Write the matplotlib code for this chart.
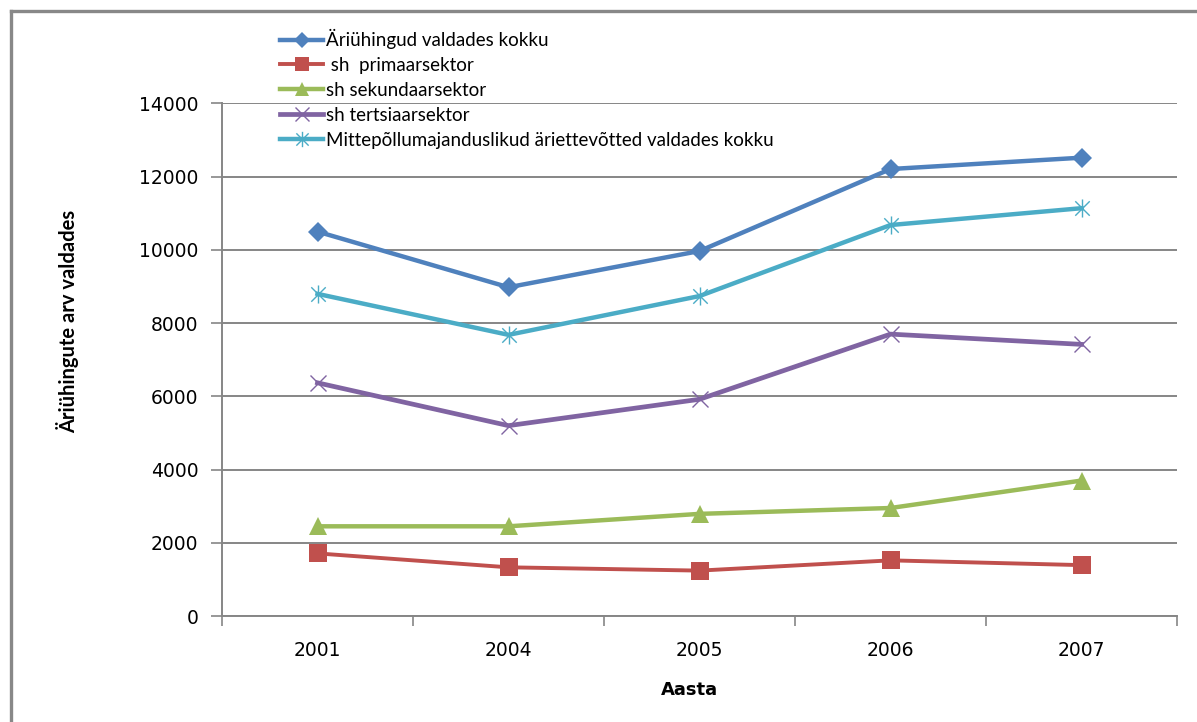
import matplotlib
matplotlib.use("Agg")
import matplotlib.pyplot as plt
from matplotlib.path import Path
from matplotlib.lines import Line2D

years = ["2001", "2004", "2005", "2006", "2007"]
ariuhingud = [10500, 8980, 9970, 12210, 12520]
primaar = [1710, 1330, 1240, 1520, 1390]
sekundaar = [2450, 2450, 2790, 2950, 3700]
tertsiaar = [6370, 5200, 5920, 7700, 7420]
mittepoll = [8800, 7680, 8740, 10680, 11140]

labels = ["Äriühingud valdades kokku", " sh  primaarsektor", "sh sekundaarsektor",
          "sh tertsiaarsektor", "Mittepõllumajanduslikud äriettevõtted valdades kokku"]
colors = ["#4F81BD", "#C0504D", "#9BBB59", "#8064A2", "#4BACC6"]

# Excel-style star marker: an x plus a vertical bar
star = Path([(-1, -1), (1, 1), (-1, 1), (1, -1), (0, -1.25), (0, 1.25)],
            [Path.MOVETO, Path.LINETO, Path.MOVETO, Path.LINETO, Path.MOVETO, Path.LINETO])

W, H = 1197, 722
fig = plt.figure(figsize=(W / 100, H / 100), dpi=100)
ax = fig.add_axes([222 / W, 1 - 616 / H, (1177 - 222) / W, (616 - 103.5) / H])

x = list(range(len(years)))
series = [ariuhingud, primaar, sekundaar, tertsiaar, mittepoll]
styles = [
    dict(marker="D", markersize=10, markeredgewidth=0),
    dict(marker="s", markersize=12.5, markeredgewidth=0),
    dict(marker="^", markersize=12.5, markeredgewidth=0),
    dict(marker="x", markersize=12, markeredgewidth=1.0),
    dict(marker=star, markersize=13, markeredgewidth=1.0, fillstyle="none"),
]
lws = [3.2, 2.8, 3.2, 3.4, 3.2]
for vals, lab, c, st, lw in zip(series, labels, colors, styles, lws):
    ax.plot(x, vals, color=c, lw=lw, label=lab, markerfacecolor=c,
            markeredgecolor=c, zorder=3, **st)

ax.set_xlim(-0.5, 4.5)
ax.set_ylim(0, 14000)
ax.set_yticks(range(0, 14001, 2000))
ax.set_xticks(x)
ax.set_xticklabels(years)
ax.set_xticks([i - 0.5 for i in range(6)], minor=True)
ax.tick_params(axis="x", which="major", length=0, pad=18, labelsize=13.5)
ax.tick_params(axis="x", which="minor", length=7, width=1.2, color="#868686", direction="out")
ax.tick_params(axis="y", length=8, width=1.2, color="#868686", labelsize=13.5, pad=9)
for lab in ax.get_xticklabels() + ax.get_yticklabels():
    lab.set_family("DejaVu Sans")

ax.grid(axis="y", color="#868686", lw=1.4, zorder=0)
ax.set_axisbelow(True)
for s in ["top", "right"]:
    ax.spines[s].set_visible(False)
for s in ["left", "bottom"]:
    ax.spines[s].set_color("#868686")
    ax.spines[s].set_linewidth(1.4)

ax.set_xlabel("Aasta", fontsize=13, fontweight="bold", family="DejaVu Sans",
              va="center", ha="center")
ax.xaxis.set_label_coords((689 - 222) / 955, (616 - 690) / 512.5)
ax.set_ylabel("Äriühingute arv valdades", fontsize=14.5, fontweight="bold", family="Lato",
              va="center", ha="center")
ax.yaxis.set_label_coords((68 - 222) / 955, (616 - 321) / 512.5)

leg = fig.legend(loc="upper left", bbox_to_anchor=(280 / W, 1 - 29 / H), frameon=False,
                 prop={"family": "Lato", "size": 13.5}, handlelength=2.3, handletextpad=0.15,
                 labelspacing=0.42, borderaxespad=0, borderpad=0, markerscale=0.85)

# outer chart frame (left and top edges)
fig.add_artist(Line2D([11 / W, 11 / W], [0, 1 - 11 / H], color="#888888", lw=2.4,
                      transform=fig.transFigure))
fig.add_artist(Line2D([11 / W, 1], [1 - 11 / H, 1 - 11 / H], color="#888888", lw=2.4,
                      transform=fig.transFigure))

fig.savefig("out.png", dpi=100)
